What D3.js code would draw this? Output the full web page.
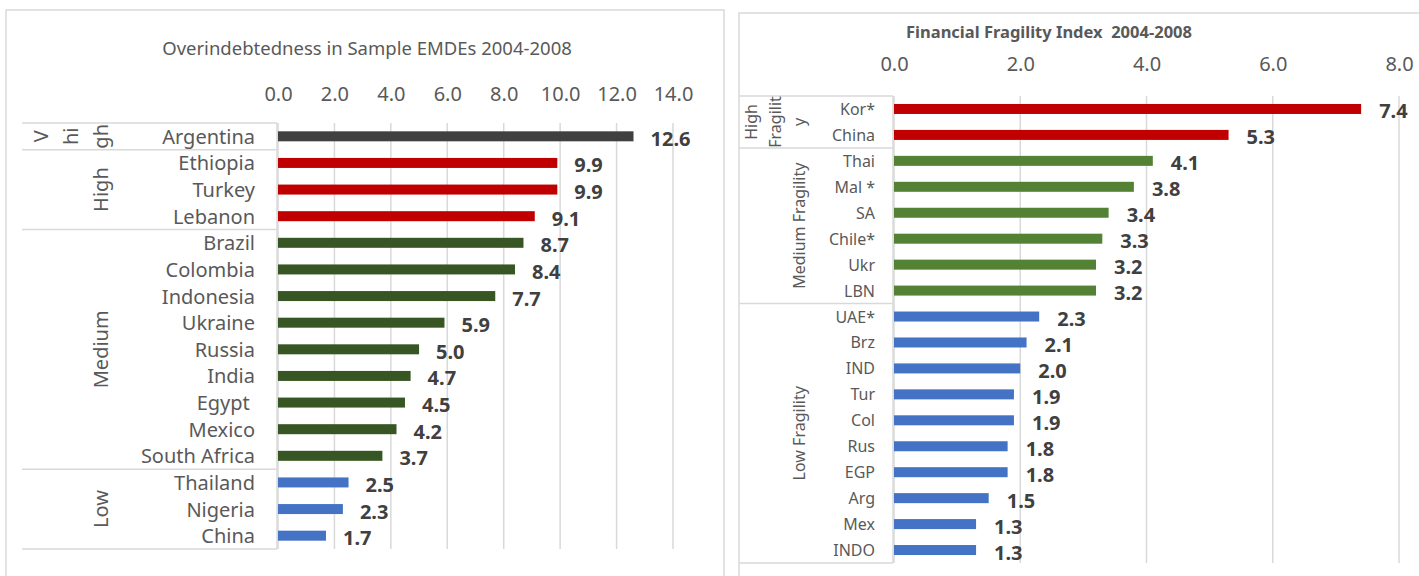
<!DOCTYPE html>
<html>
<head>
<meta charset="utf-8">
<script src="https://cdn.jsdelivr.net/npm/d3@7"></script>
<style>
  body { margin: 0; background: #fff; }
  svg { display: block; font-family: "Noto Sans", sans-serif; }
</style>
</head>
<body>
<svg width="1419" height="576"></svg>
<script>
// left panel data
var debtCountries = ['Argentina', 'Ethiopia', 'Turkey', 'Lebanon', 'Brazil', 'Colombia', 'Indonesia',
    'Ukraine', 'Russia', 'India', 'Egypt ', 'Mexico', 'South Africa', 'Thailand', 'Nigeria', 'China'];
var debtValues = [12.6, 9.9, 9.9, 9.1, 8.7, 8.4, 7.7, 5.9, 5.0, 4.7, 4.5, 4.2, 3.7, 2.5, 2.3, 1.7];
var debtGroupLabels = [['V', 'hi', 'gh'], ['High'], ['Medium'], ['Low']];
var debtGroupSizes = [1, 3, 9, 3];
var debtTicks = [0, 2, 4, 6, 8, 10, 12, 14];

// right panel data
var fragCountries = ['Kor*', 'China', 'Thai', 'Mal *', 'SA', 'Chile*', 'Ukr', 'LBN', 'UAE*', 'Brz',
    'IND', 'Tur', 'Col', 'Rus', 'EGP', 'Arg', 'Mex', 'INDO'];
var fragValues = [7.4, 5.3, 4.1, 3.8, 3.4, 3.3, 3.2, 3.2, 2.3, 2.1, 2.0, 1.9, 1.9, 1.8, 1.8, 1.5, 1.3, 1.3];
var fragGroupLabels = [['High', 'Fragilit', 'y'], ['Medium Fragility'], ['Low Fragility']];
var fragGroupSizes = [2, 6, 10];
var fragTicks = [0, 2, 4, 6, 8];

var svg = d3.select('svg');

function drawPanel(opt) {
    var g = svg.append('g');

    // chart frame
    g.append('rect')
        .attr('x', opt.frame[0]).attr('y', opt.frame[1])
        .attr('width', opt.frame[2]).attr('height', opt.frame[3])
        .attr('fill', '#fff').attr('stroke', '#d9d9d9').attr('stroke-width', 1.5);

    var xScale = d3.scaleLinear().domain(opt.domain).range([opt.x0, opt.x1]);
    var yScale = d3.scaleBand().domain(opt.cats).range([opt.y0, opt.y1]);

    // gridlines
    g.selectAll('.grid').data(opt.ticks).enter().append('line')
        .attr('x1', function (d) { return xScale(d); })
        .attr('x2', function (d) { return xScale(d); })
        .attr('y1', opt.y0).attr('y2', opt.y1)
        .attr('stroke', '#d9d9d9').attr('stroke-width', 1.5);

    // tick labels on top
    var axis = d3.axisTop(xScale).tickValues(opt.ticks).tickSize(0).tickPadding(opt.tickPad)
        .tickFormat(d3.format('.1f'));
    var ax = g.append('g').attr('transform', 'translate(0,' + opt.y0 + ')').call(axis);
    ax.select('.domain').remove();
    ax.selectAll('text').attr('fill', '#595959').style('font-size', opt.tickSize + 'px')
        .style('font-family', '"Noto Sans", sans-serif');

    // group box lines
    var bounds = [0];
    opt.groupSizes.forEach(function (s, i) { bounds.push(bounds[i] + s); });
    g.selectAll('.gline').data(bounds).enter().append('line')
        .attr('x1', opt.boxLeft).attr('x2', opt.x0 - 1)
        .attr('y1', function (d) { return opt.y0 + d * yScale.step(); })
        .attr('y2', function (d) { return opt.y0 + d * yScale.step(); })
        .attr('stroke', '#d9d9d9').attr('stroke-width', 1.5);
    g.append('line')
        .attr('x1', opt.x0 - 1).attr('x2', opt.x0 - 1)
        .attr('y1', opt.y0).attr('y2', opt.y1)
        .attr('stroke', '#d9d9d9').attr('stroke-width', 1.5);

    // rotated group labels
    opt.groupLabels.forEach(function (lines, i) {
        var cy = opt.y0 + (bounds[i] + bounds[i + 1]) / 2 * yScale.step();
        lines.forEach(function (t, j) {
            var cx = opt.groupX - (lines.length - 1 - j) * opt.groupLineGap;
            g.append('text')
                .attr('transform', 'translate(' + cx + ',' + cy + ') rotate(-90)')
                .attr('text-anchor', 'middle')
                .attr('dominant-baseline', 'central')
                .attr('fill', '#595959')
                .style('font-size', opt.groupSize + 'px')
                .text(t);
        });
    });

    // category labels
    g.selectAll('.cat').data(opt.cats).enter().append('text')
        .attr('x', opt.catRight)
        .attr('y', function (d) { return yScale(d) + yScale.bandwidth() / 2; })
        .attr('text-anchor', 'end')
        .attr('dominant-baseline', 'central')
        .attr('fill', '#595959')
        .style('font-size', opt.catSize + 'px')
        .style('white-space', 'pre')
        .text(function (d) { return d; });

    // bars
    g.selectAll('.bar').data(opt.values).enter().append('rect')
        .attr('x', xScale(0))
        .attr('y', function (d, i) { return yScale(opt.cats[i]) + yScale.bandwidth() / 2 - 5; })
        .attr('width', function (d) { return xScale(d) - xScale(0); })
        .attr('height', 10)
        .attr('fill', function (d, i) { return opt.colors[groupOf(i)]; });

    function groupOf(i) {
        for (var k = 0; k < opt.groupSizes.length; k++) {
            if (i < bounds[k + 1]) return k;
        }
        return 0;
    }

    // value labels
    g.selectAll('.val').data(opt.values).enter().append('text')
        .attr('x', function (d) { return xScale(d) + opt.valGap; })
        .attr('y', function (d, i) { return yScale(opt.cats[i]) + yScale.bandwidth() / 2 + 2; })
        .attr('dominant-baseline', 'central')
        .attr('fill', '#404040')
        .style('font-size', opt.valSize + 'px')
        .style('font-weight', 'bold')
        .text(function (d) { return d3.format('.1f')(d); });

    // title
    g.append('text')
        .attr('x', opt.titleX).attr('y', opt.titleY)
        .attr('text-anchor', 'middle')
        .attr('dominant-baseline', 'central')
        .attr('fill', '#595959')
        .style('font-size', opt.titleSize + 'px')
        .style('font-weight', opt.titleBold ? 'bold' : 'normal')
        .style('white-space', 'pre')
        .text(opt.title);
}

drawPanel({
    frame: [6, 10, 718, 600],
    title: 'Overindebtedness in Sample EMDEs 2004-2008',
    titleX: 367, titleY: 47, titleSize: 18.5, titleBold: false,
    cats: debtCountries, values: debtValues,
    groupLabels: debtGroupLabels, groupSizes: debtGroupSizes,
    colors: ['#404040', '#c00000', '#375623', '#4472c4'],
    ticks: debtTicks, domain: [0, 14],
    x0: 278, x1: 673, y0: 123, y1: 549,
    tickPad: 22, tickSize: 20,
    boxLeft: 22, groupX: 100, groupLineGap: 30, groupSize: 20,
    catRight: 255, catSize: 20,
    valGap: 17, valSize: 20
});

drawPanel({
    frame: [739, 13, 700, 600],
    title: 'Financial Fragility Index  2004-2008',
    titleX: 1049, titleY: 31, titleSize: 16.5, titleBold: true,
    cats: fragCountries, values: fragValues,
    groupLabels: fragGroupLabels, groupSizes: fragGroupSizes,
    colors: ['#c00000', '#548235', '#4472c4'],
    ticks: fragTicks, domain: [0, 8],
    x0: 894, x1: 1399, y0: 96, y1: 563,
    tickPad: 25, tickSize: 20,
    boxLeft: 739, groupX: 799, groupLineGap: 24, groupSize: 16,
    catRight: 875, catSize: 16,
    valGap: 18, valSize: 20
});
</script>
</body>
</html>
